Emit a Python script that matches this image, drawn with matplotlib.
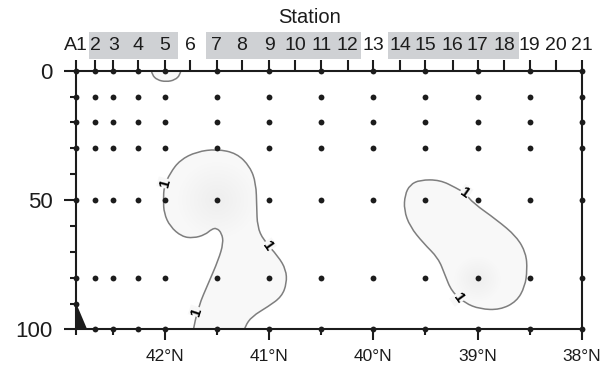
import numpy as np
import matplotlib
matplotlib.use("Agg")
import matplotlib.pyplot as plt
import matplotlib.transforms as mtransforms
from matplotlib.path import Path
from matplotlib.patches import PathPatch, Ellipse, Rectangle

plt.rcParams["font.family"] = ["Liberation Sans", "DejaVu Sans"]

# ---- stations along the transect (latitude, °N) ----
station_names = ["A1", "2", "3", "4", "5", "6", "7", "8", "9", "10", "11",
                 "12", "13", "14", "15", "16", "17", "18", "19", "20", "21"]
station_lat = [42.855, 42.672, 42.496, 42.256, 42.0, 41.76, 41.503, 41.264,
               41.0, 40.752, 40.5, 40.247, 40.0, 39.745, 39.5, 39.239, 39.0,
               38.744, 38.5, 38.248, 38.0]

# stations that were sampled, and their bottle depths (m)
sampled_stations = ["A1", "2", "3", "4", "5", "7", "9", "11", "13", "15",
                    "17", "19", "21"]
sample_depths = [0, 10, 20, 30, 50, 80, 100]
a1_depths = [0, 10, 20, 30, 50, 80, 90]

# grey bands behind grouped station labels (latitude edges)
band_north = [42.735, 41.609, 39.863]
band_south = [41.878, 40.119, 38.603]

# seafloor at the inshore end
seafloor_lat = [42.855, 42.75]
seafloor_depth = [90, 100]

# ---- the "1" isoline (latitude, depth) ----
west_lat = [41.504, 41.312, 41.184, 41.127, 41.120, 41.114, 41.057, 40.913,
            40.839, 40.832, 40.880, 41.009, 41.168, 41.232, 41.25, 41.25,
            41.74, 41.74, 41.680, 41.584, 41.488, 41.440, 41.456, 41.504,
            41.552, 41.616, 41.728, 41.840, 41.952, 42.010, 42.016, 42.010,
            41.952, 41.856, 41.696]
west_depth = [30.3, 31.9, 37.1, 43.5, 52.5, 60.2, 65.4, 71.8, 76.9, 82.1,
              87.3, 91.1, 95.0, 98.8, 102.0, 108.0, 108.0, 102.0, 91.1, 82.1,
              73.1, 66.6, 62.8, 60.8, 61.2, 63.4, 64.7, 64.1, 60.2, 55.1,
              49.9, 44.8, 39.6, 34.5, 31.3]

east_lat = [39.553, 39.361, 39.201, 39.121, 39.041, 38.817, 38.625, 38.535,
            38.523, 38.545, 38.625, 38.785, 38.977, 39.121, 39.249, 39.313,
            39.377, 39.521, 39.649, 39.706, 39.697, 39.649]
east_depth = [42.2, 42.2, 45.4, 47.3, 51.2, 57.6, 64.1, 70.5, 77.0, 83.4,
              89.2, 92.4, 92.1, 89.8, 85.3, 78.9, 72.4, 66.6, 60.2, 53.8,
              48.0, 44.1]

cap_lat = [42.135, 42.125, 42.075, 41.990, 41.905, 41.855, 41.845, 41.990]
cap_depth = [-1.5, 1.6, 3.6, 4.3, 3.6, 1.6, -1.5, -5.0]

# contour labels: position and angle along the line
clabel_lat = [42.0, 41.012, 41.696, 39.121, 39.185]
clabel_depth = [43.5, 67.7, 93.1, 47.3, 87.9]
clabel_angle = [75, -55, 72, -35, -54]
clabel_text = "1"

# local maxima inside the patches
peak_lat = [41.50, 39.0]
peak_depth = [50.0, 80.5]
peak_half_width = [(0.37, 14.5), (0.22, 8.5)]

ink = "#1c1c1c"
fill = "#f8f8f8"
iso_color = "#7e7e7e"


def smooth_closed(lats, depths):
    """Closed quadratic-spline path through the control polygon."""
    p = np.column_stack([lats, depths]).astype(float)
    mids = (p + np.roll(p, -1, axis=0)) / 2.0
    verts = [mids[-1]]
    codes = [Path.MOVETO]
    for i in range(len(p)):
        verts += [p[i], mids[i]]
        codes += [Path.CURVE3, Path.CURVE3]
    return Path(verts, codes)


fig = plt.figure(figsize=(6.1, 3.67), dpi=100)
fig.patch.set_facecolor("white")
ax = fig.add_axes([0.1246, 0.1022, 0.8290, 0.7052])
ax.set_xlim(station_lat[0], station_lat[-1])
ax.set_ylim(100, 0)

# shaded isoline patches
patches = []
for lats, deps in [(west_lat, west_depth), (east_lat, east_depth),
                   (cap_lat, cap_depth)]:
    pp = PathPatch(smooth_closed(lats, deps), facecolor=fill,
                   edgecolor=iso_color, lw=1.1, zorder=1)
    ax.add_patch(pp)
    patches.append(pp)

# soft core around the maxima
for (plat, pdep, (hw, hd), host) in zip(peak_lat, peak_depth,
                                         peak_half_width, patches[:2]):
    for k in range(10):
        f = 1.0 - k / 10.0
        e = Ellipse((plat, pdep), 2 * hw * f, 2 * hd * f, facecolor="#d0d0d0",
                    edgecolor="none", alpha=0.02, zorder=1.1)
        ax.add_patch(e)
        e.set_clip_path(host)

# contour labels
for la, de, ang in zip(clabel_lat, clabel_depth, clabel_angle):
    ax.text(la, de, clabel_text, rotation=ang, rotation_mode="anchor",
            ha="center", va="center", fontsize=11, color="black",
            fontweight="bold", zorder=3,
            bbox=dict(boxstyle="square,pad=0.05", fc=fill, ec="none"))

# seafloor
ax.fill_between(seafloor_lat, seafloor_depth, 110, color=ink, lw=0, zorder=4)

# sample points
lat_of = dict(zip(station_names, station_lat))
for name in sampled_stations:
    deps = a1_depths if name == "A1" else sample_depths
    ax.plot([lat_of[name]] * len(deps), deps, "o", color=ink, ms=4.2,
            mec="none", zorder=5, clip_on=False)

# frame and ticks
for s in ax.spines.values():
    s.set_linewidth(1.5)
    s.set_color(ink)
    s.set_zorder(6)

ax.set_yticks([0, 50, 100])
ax.set_yticks(np.arange(0, 101, 10), minor=True)
ax.set_xticks([42, 41, 40, 39, 38])
ax.set_xticklabels(["42°N", "41°N", "40°N", "39°N", "38°N"])
ax.set_xticks([station_lat[0], 42.5, 41.5, 40.5, 39.5, 38.5], minor=True)
ax.tick_params(axis="y", which="major", direction="out", length=8.6,
               width=1.5, color=ink, labelsize=16, labelcolor=ink, pad=8)
ax.tick_params(axis="y", which="minor", direction="out", length=4.3,
               width=1.5, color=ink)
ax.tick_params(axis="x", which="major", direction="out", length=7.9,
               width=1.5, color=ink, labelsize=12.5, labelcolor=ink, pad=6)
ax.tick_params(axis="x", which="minor", direction="out", length=4.3,
               width=1.5, color=ink)

ax2 = ax.twiny()
ax2.set_xlim(ax.get_xlim())
ax2.set_xticks(station_lat)
ax2.set_xticklabels(station_names)
ax2.tick_params(axis="x", which="major", direction="out", length=7.7,
                width=1.5, color=ink, labelsize=14, labelcolor=ink, pad=4.5)
for s in ax2.spines.values():
    s.set_visible(False)

band = mtransforms.blended_transform_factory(ax2.transData, fig.transFigure)
for x0, x1 in zip(band_north, band_south):
    ax2.add_patch(Rectangle((x0, 0.840), x1 - x0, 0.0736, transform=band,
                            facecolor="#cfd1d4", edgecolor="none",
                            clip_on=False, zorder=0.5))

fig.text(0.5066, 0.938, "Station", ha="center", va="baseline",
         fontsize=14.5, color=ink)

fig.savefig("out.png", dpi=100)
